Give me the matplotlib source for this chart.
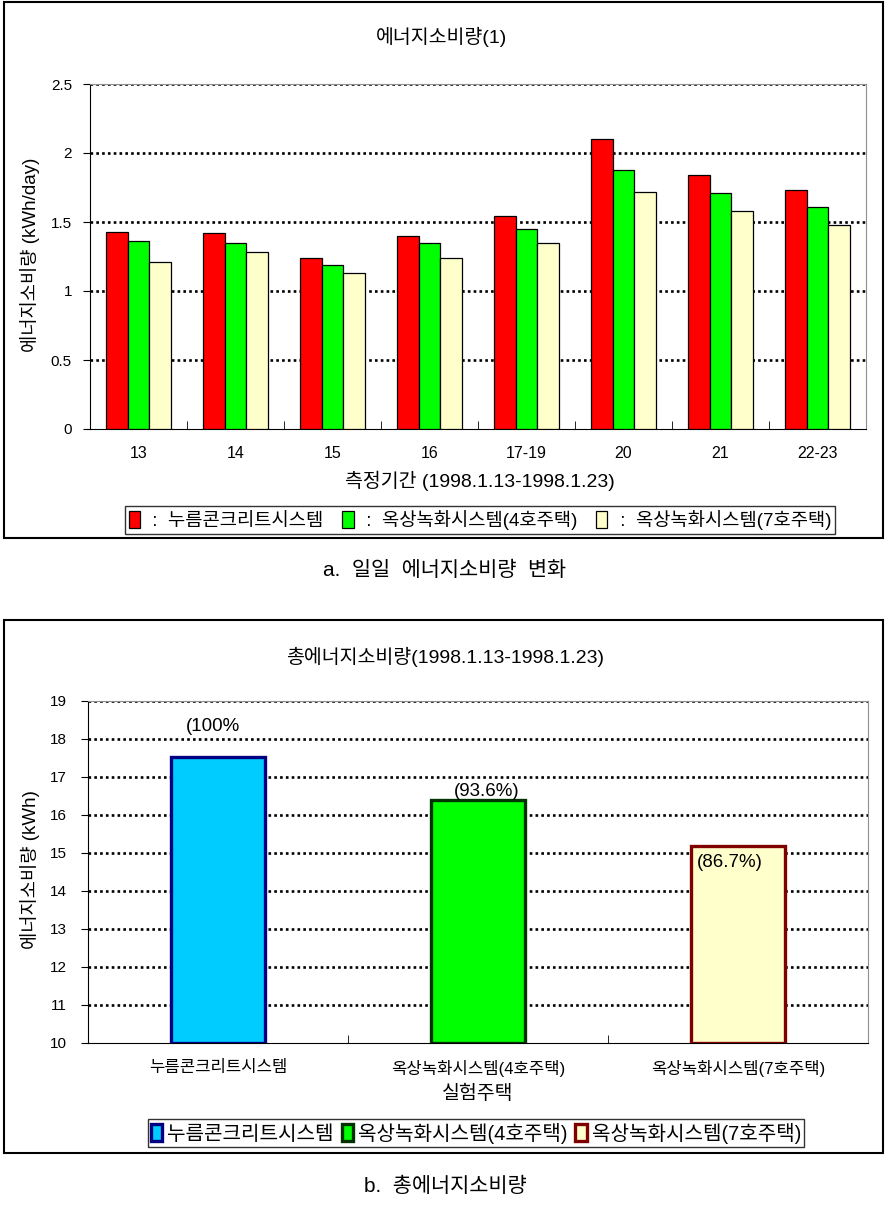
import matplotlib
matplotlib.use("Agg")
import matplotlib.pyplot as plt
import numpy as np
from matplotlib.patches import Rectangle

plt.rcParams['font.family'] = ['Liberation Sans', 'Noto Sans CJK KR']

# daily energy consumption (kWh/day)
periods = ["13", "14", "15", "16", "17-19", "20", "21", "22-23"]
concrete = [1.43, 1.42, 1.24, 1.40, 1.54, 2.10, 1.84, 1.73]
green_h4 = [1.36, 1.35, 1.19, 1.35, 1.45, 1.88, 1.71, 1.61]
green_h7 = [1.21, 1.28, 1.13, 1.24, 1.35, 1.72, 1.58, 1.48]
daily_names = ["누름콘크리트시스템", "옥상녹화시스템(4호주택)", "옥상녹화시스템(7호주택)"]

# total energy consumption (kWh)
houses = ["누름콘크리트시스템", "옥상녹화시스템(4호주택)", "옥상녹화시스템(7호주택)"]
totals = [17.52, 16.40, 15.19]
pct_labels = ["(100%", "(93.6%)", "(86.7%)"]

W, H = 887, 1206
fig = plt.figure(figsize=(W / 100, H / 100), dpi=100)


def fx(px):
    return px / W


def fy(py):
    return 1 - py / H


def style_axes(ax):
    ax.spines['left'].set_color('black')
    ax.spines['bottom'].set_color('black')
    ax.spines['top'].set_color('#909090')
    ax.spines['right'].set_color('#909090')
    ax.spines['top'].set_linewidth(0.8)
    ax.spines['right'].set_linewidth(0.8)
    ax.set_axisbelow(True)
    ax.yaxis.grid(True, color='black', linestyle=(0, (1, 1.2)), linewidth=1.9)
    ax.yaxis.get_gridlines()[0].set_visible(False)
    ax.tick_params(axis='y', length=5, labelsize=11)


# panel borders
for y0, y1 in [(2, 538), (620, 1153)]:
    fig.patches.append(Rectangle((fx(4), fy(y1)), fx(883) - fx(4), fy(y0) - fy(y1),
                                 transform=fig.transFigure, fill=False,
                                 edgecolor='black', linewidth=1.5))

# ---- top chart
ax1 = fig.add_axes([fx(90), fy(429), fx(866) - fx(90), fy(84) - fy(429)])
x = np.arange(len(periods))
bw = 0.225
colors = ['#FF0000', '#00FF00', '#FFFFCC']
bars = []
for i, (vals, c) in enumerate(zip([concrete, green_h4, green_h7], colors)):
    b = ax1.bar(x + (i - 1) * bw, vals, bw, color=c, edgecolor='black', linewidth=0.9,
                label=" :  " + daily_names[i], zorder=3)
    bars.append(b)
ax1.set_xlim(-0.5, len(periods) - 0.5)
ax1.set_ylim(0, 2.5)
ax1.set_yticks([0, 0.5, 1, 1.5, 2, 2.5])
ax1.set_yticklabels(["0", "0.5", "1", "1.5", "2", "2.5"])
ax1.set_xticks(x)
ax1.set_xticklabels(periods, fontsize=11.5)
ax1.set_xticks(np.arange(len(periods) + 1) - 0.5, minor=True)
ax1.tick_params(axis='x', which='major', length=0, pad=12)
ax1.tick_params(axis='x', which='minor', length=6, direction='in')
ax1.tick_params(axis='y', pad=8)
style_axes(ax1)

fig.text(fx(442), fy(37), "에너지소비량(1)", ha='center', va='center', fontsize=14)
fig.text(fx(30), fy(255), "에너지소비량 (kWh/day)", ha='center', va='center',
         rotation=90, fontsize=13.5)
fig.text(fx(480), fy(481), "측정기간 (1998.1.13-1998.1.23)", ha='center', va='center',
         fontsize=14)
leg1 = fig.legend(handles=bars, loc='center', bbox_to_anchor=(fx(480), fy(520)),
                  ncol=3, fontsize=13.5, frameon=True, fancybox=False,
                  edgecolor='black', handlelength=0.6, handleheight=1.0,
                  handletextpad=0.4, columnspacing=1.0, borderpad=0.2,
                  borderaxespad=0)
leg1.get_frame().set_linewidth(1.0)

fig.text(fx(445), fy(570), "a.  일일  에너지소비량  변화", ha='center', va='center',
         fontsize=15)

# ---- bottom chart
ax2 = fig.add_axes([fx(88), fy(1043), fx(868) - fx(88), fy(701) - fy(1043)])
face = ['#00CCFF', '#00FF00', '#FFFFCC']
edge = ['#000080', '#003300', '#800000']
xb = np.arange(len(houses))
tbars = []
for i in range(len(houses)):
    b = ax2.bar(xb[i], totals[i] - 10, 0.36, bottom=10, color=face[i],
                edgecolor=edge[i], linewidth=2.4, label=houses[i], zorder=3)
    tbars.append(b)
ax2.set_xlim(-0.5, len(houses) - 0.5)
ax2.set_ylim(10, 19)
ax2.set_yticks(np.arange(10, 20))
ax2.set_xticks(xb)
ax2.set_xticklabels(houses, fontsize=12)
ax2.set_xticks(np.arange(len(houses) + 1) - 0.5, minor=True)
ax2.tick_params(axis='x', which='major', length=0, pad=12)
ax2.tick_params(axis='x', which='minor', length=6, direction='in')
ax2.tick_params(axis='y', pad=10)
style_axes(ax2)

label_dx = [-0.02, 0.035, -0.03]
label_dy = [0.8, 0.23, -0.43]
for i in range(len(houses)):
    ax2.text(xb[i] + label_dx[i], totals[i] + label_dy[i], pct_labels[i],
             ha='center', va='center', fontsize=13.5, zorder=4)

fig.text(fx(445), fy(657), "총에너지소비량(1998.1.13-1998.1.23)", ha='center',
         va='center', fontsize=14)
fig.text(fx(30), fy(870), "에너지소비량 (kWh)", ha='center', va='center',
         rotation=90, fontsize=13.5)
fig.text(fx(478), fy(1094), "실험주택", ha='center', va='center', fontsize=14)
leg2 = fig.legend(handles=tbars, loc='center', bbox_to_anchor=(fx(476), fy(1133)),
                  ncol=3, fontsize=14.5, frameon=True, fancybox=False,
                  edgecolor='black', handlelength=0.55, handleheight=0.85,
                  handletextpad=0.25, columnspacing=0.4, borderpad=0.15,
                  borderaxespad=0)
leg2.get_frame().set_linewidth(1.0)

fig.text(fx(445), fy(1186), "b.  총에너지소비량", ha='center', va='center', fontsize=15)

fig.savefig("out.png", dpi=100)
